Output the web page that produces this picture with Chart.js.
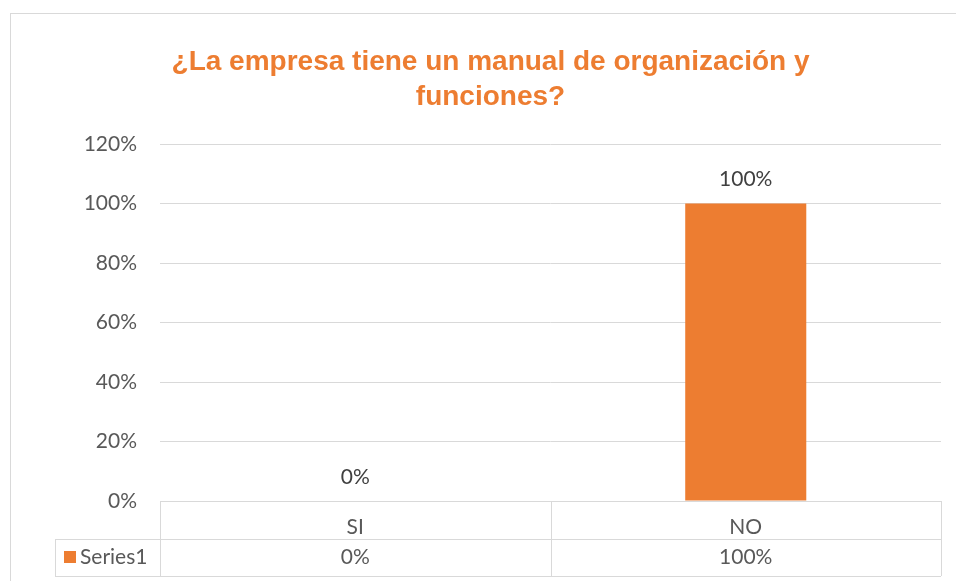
<!DOCTYPE html>
<html>
<head>
<meta charset="utf-8">
<script src="https://cdn.jsdelivr.net/npm/chart.js@4/dist/chart.umd.min.js"></script>
<style>
  html, body { margin: 0; padding: 0; background: #fff; }
  #wrap { width: 956px; height: 581px; }
</style>
</head>
<body>
<div id="wrap"><canvas id="chart" width="956" height="581"></canvas></div>
<script>
// datos del gráfico
const categories = ['SI', 'NO'];
const seriesName = 'Series1';
const values = [0, 100];
const yTicks = [0, 20, 40, 60, 80, 100, 120];
const titleLines = ['¿La empresa tiene un manual de organización y', 'funciones?'];

const ORANGE = '#ED7D31';
const GRID = '#D9D9D9';
const AXIS_TXT = '#595959';
const LABEL_TXT = '#404040';
const FONT = 'Lato, "Open Sans", sans-serif';
const TXT_SIZE = 21;

const pct = v => v + '%';

// fondo blanco + borde del área del gráfico
const frame = {
    id: 'frame',
    beforeDraw(chart) {
        const ctx = chart.ctx;
        ctx.save();
        ctx.fillStyle = '#fff';
        ctx.fillRect(0, 0, chart.width, chart.height);
        ctx.strokeStyle = GRID;
        ctx.lineWidth = 1;
        ctx.strokeRect(10.5, 13.5, 980, 600);
        ctx.restore();
    }
};

// etiquetas de datos sobre las barras
const barLabels = {
    id: 'barLabels',
    afterDatasetsDraw(chart) {
        const ctx = chart.ctx;
        const meta = chart.getDatasetMeta(0);
        ctx.save();
        ctx.font = TXT_SIZE + 'px ' + FONT;
        ctx.fillStyle = LABEL_TXT;
        ctx.textAlign = 'center';
        ctx.textBaseline = 'middle';
        meta.data.forEach((bar, i) => {
            ctx.fillText(pct(values[i]), bar.x, bar.y - 24);
        });
        ctx.restore();
    }
};

// tabla de datos debajo del eje X
const dataTable = {
    id: 'dataTable',
    afterDraw(chart) {
        const ctx = chart.ctx;
        const x = chart.scales.x;
        const area = chart.chartArea;
        const half = (x.getPixelForValue(1) - x.getPixelForValue(0)) / 2;
        const top = x.top;
        const rowH = (x.bottom - x.top) / 2;
        const mid = top + rowH;
        const bottom = x.bottom;
        const keyLeft = 55;

        ctx.save();
        ctx.strokeStyle = GRID;
        ctx.lineWidth = 1;
        ctx.beginPath();
        // horizontales
        ctx.moveTo(area.left, Math.round(top) + 0.5);
        ctx.lineTo(area.right, Math.round(top) + 0.5);
        ctx.moveTo(keyLeft, Math.round(mid) + 0.5);
        ctx.lineTo(area.right, Math.round(mid) + 0.5);
        ctx.moveTo(keyLeft, Math.round(bottom) + 0.5);
        ctx.lineTo(area.right, Math.round(bottom) + 0.5);
        // verticales
        ctx.moveTo(keyLeft + 0.5, Math.round(mid));
        ctx.lineTo(keyLeft + 0.5, Math.round(bottom));
        categories.forEach((c, i) => {
            const xl = Math.round(x.getPixelForValue(i) - half) + 0.5;
            ctx.moveTo(xl, Math.round(top));
            ctx.lineTo(xl, Math.round(bottom));
        });
        const xr = Math.round(area.right) + 0.5;
        ctx.moveTo(xr, Math.round(top));
        ctx.lineTo(xr, Math.round(bottom));
        ctx.stroke();

        // clave de la serie
        const cy = mid + rowH / 2;
        ctx.fillStyle = ORANGE;
        ctx.fillRect(64, Math.round(cy - 6), 12, 12);
        ctx.font = TXT_SIZE + 'px ' + FONT;
        ctx.fillStyle = AXIS_TXT;
        ctx.textBaseline = 'middle';
        ctx.textAlign = 'left';
        ctx.fillText(seriesName, 80, cy);

        // valores
        ctx.textAlign = 'center';
        values.forEach((v, i) => {
            ctx.fillText(pct(v), x.getPixelForValue(i), cy);
        });
        ctx.restore();
    }
};

new Chart(document.getElementById('chart'), {
    type: 'bar',
    data: {
        labels: categories,
        datasets: [{
            label: seriesName,
            data: values,
            backgroundColor: ORANGE,
            categoryPercentage: 0.62,
            barPercentage: 0.5
        }]
    },
    options: {
        responsive: false,
        animation: false,
        devicePixelRatio: 1,
        layout: { padding: { left: 40, right: 15, top: 0, bottom: 5 } },
        plugins: {
            legend: { display: false },
            tooltip: { enabled: false },
            title: {
                display: true,
                text: titleLines,
                color: ORANGE,
                font: { family: '"Liberation Sans", Arial, sans-serif', size: 28, weight: 'bold', lineHeight: 1.25 },
                padding: { top: 45, bottom: 29 }
            }
        },
        scales: {
            x: {
                grid: { display: false },
                border: { display: false },
                ticks: { color: AXIS_TXT, font: { family: FONT, size: TXT_SIZE }, padding: 6 },
                afterFit(s) { s.height = 75; }
            },
            y: {
                min: 0,
                max: 120,
                afterBuildTicks(s) { s.ticks = yTicks.map(v => ({ value: v })); },
                grid: { color: GRID, lineWidth: 1, drawTicks: false },
                border: { display: false },
                ticks: { color: AXIS_TXT, font: { family: FONT, size: TXT_SIZE }, padding: 23, callback: pct },
                afterFit(s) { s.width = 120; }
            }
        }
    },
    plugins: [frame, barLabels, dataTable]
});
</script>
</body>
</html>
